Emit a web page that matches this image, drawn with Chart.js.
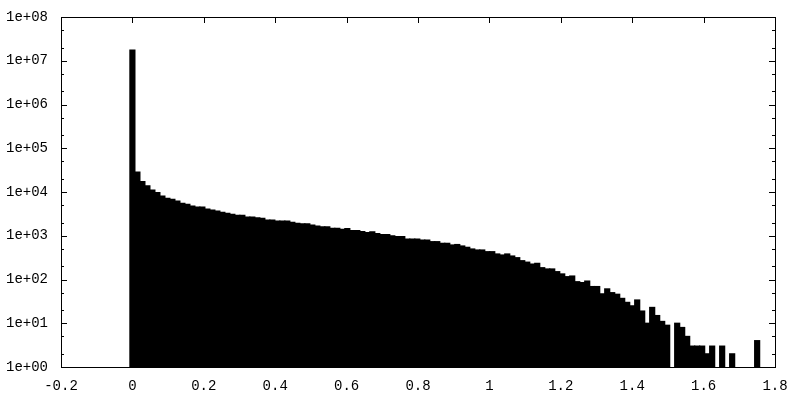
<!DOCTYPE html>
<html>
<head>
<meta charset="utf-8">
<script src="https://cdn.jsdelivr.net/npm/chart.js@4.4.1/dist/chart.umd.min.js"></script>
<style>
  body { margin: 0; background: #fff; }
</style>
</head>
<body>
<canvas id="myChart" width="800" height="400"></canvas>
<script>
// bin centres (x) and counts per bin (y)
const binCenters = [
  0, 0.014, 0.028, 0.042, 0.056, 0.07, 0.084, 0.098, 0.112, 0.126,
  0.14, 0.154, 0.168, 0.182, 0.196, 0.21, 0.224, 0.238, 0.252, 0.266,
  0.28, 0.294, 0.308, 0.322, 0.336, 0.35, 0.364, 0.378, 0.392, 0.406,
  0.42, 0.434, 0.448, 0.462, 0.476, 0.49, 0.504, 0.518, 0.532, 0.546,
  0.56, 0.574, 0.588, 0.602, 0.616, 0.63, 0.644, 0.658, 0.672, 0.686,
  0.7, 0.714, 0.728, 0.742, 0.756, 0.77, 0.784, 0.798, 0.812, 0.826,
  0.84, 0.854, 0.868, 0.882, 0.896, 0.91, 0.924, 0.938, 0.952, 0.966,
  0.98, 0.994, 1.008, 1.022, 1.036, 1.05, 1.064, 1.078, 1.092, 1.106,
  1.12, 1.134, 1.148, 1.162, 1.176, 1.19, 1.204, 1.218, 1.232, 1.246,
  1.26, 1.274, 1.288, 1.302, 1.316, 1.33, 1.344, 1.358, 1.372, 1.386,
  1.4, 1.414, 1.428, 1.442, 1.456, 1.47, 1.484, 1.498, 1.512, 1.526,
  1.54, 1.554, 1.568, 1.582, 1.596, 1.61, 1.624, 1.638, 1.652, 1.666,
  1.68, 1.694, 1.708, 1.722, 1.736, 1.75
];
const counts = [
  17600000, 28500, 17200, 13900, 11100, 9660, 8110, 7180, 6810, 6230,
  5520, 5240, 4790, 4540, 4540, 4080, 3880, 3680, 3440, 3260,
  3090, 2930, 2930, 2680, 2680, 2550, 2500, 2290, 2290, 2170,
  2170, 2170, 2030, 1920, 1860, 1860, 1760, 1670, 1600, 1600,
  1480, 1480, 1400, 1450, 1310, 1310, 1240, 1180, 1220, 1120,
  1060, 1060, 1000, 953, 953, 843, 843, 843, 800, 800,
  732, 732, 671, 671, 615, 630, 583, 544, 498, 472,
  472, 432, 432, 383, 363, 383, 344, 315, 269, 249,
  225, 234, 186, 174, 174, 151, 134, 116, 120, 89,
  85, 92, 69, 69, 47, 61, 50, 46, 37, 30,
  25, 34, 19, 10, 23, 15, 11, 9, null, 10,
  8, 5, 3, 3, 3, 2, 3, null, 3, null,
  2, null, null, null, null, 4
];
const yMajor = [1, 10, 100, 1000, 10000, 100000, 1000000, 10000000, 100000000];
const yMinor = [2, 5, 20, 50, 200, 500, 2000, 5000, 20000, 50000, 200000, 500000,
  2000000, 5000000, 20000000, 50000000];

function expLabel(v) {
  const e = Math.round(Math.log10(v));
  return '1e+' + (e < 10 ? '0' : '') + e;
}

const frame = {
  id: 'frame',
  beforeDraw(chart) {
    const ctx = chart.ctx;
    ctx.save();
    ctx.fillStyle = '#fff';
    ctx.fillRect(0, 0, chart.width, chart.height);
    ctx.restore();
  },
  afterDatasetsDraw(chart) {
    const { ctx, chartArea: a, scales } = chart;
    const x = scales.x, y = scales.y;
    ctx.save();
    ctx.strokeStyle = '#000';
    ctx.lineWidth = 1;
    ctx.beginPath();
    y.ticks.forEach(t => {
      const py = Math.round(y.getPixelForValue(t.value)) + 0.5;
      const len = yMajor.includes(t.value) ? 6 : 3;
      ctx.moveTo(a.left, py); ctx.lineTo(a.left + len, py);
      ctx.moveTo(a.right, py); ctx.lineTo(a.right - len, py);
    });
    x.ticks.forEach(t => {
      const px = Math.round(x.getPixelForValue(t.value)) + 0.5;
      ctx.moveTo(px, a.bottom); ctx.lineTo(px, a.bottom - 6);
      ctx.moveTo(px, a.top); ctx.lineTo(px, a.top + 6);
    });
    ctx.stroke();
    ctx.strokeRect(Math.round(a.left) + 0.5, Math.round(a.top) + 0.5,
      Math.round(a.right - a.left), Math.round(a.bottom - a.top));
    ctx.restore();
  }
};

Chart.defaults.font.family = 'Liberation Mono';
Chart.defaults.font.size = 14;
Chart.defaults.color = '#000';

new Chart(document.getElementById('myChart'), {
  type: 'bar',
  data: {
    datasets: [{
      data: binCenters.map((c, i) => ({ x: c, y: counts[i] })),
      backgroundColor: '#000',
      borderWidth: 0,
      inflateAmount: 0.6,
      barPercentage: 1,
      categoryPercentage: 1
    }]
  },
  options: {
    responsive: false,
    animation: false,
    layout: { padding: { top: 17, right: 25, left: 0, bottom: 0 } },
    plugins: { legend: { display: false }, tooltip: { enabled: false } },
    scales: {
      x: {
        type: 'linear',
        min: -0.2,
        max: 1.8,
        offset: false,
        grid: { display: false, offset: false },
        border: { display: false },
        afterFit: s => { s.height = 33; },
        ticks: {
          stepSize: 0.2,
          autoSkip: false,
          maxRotation: 0,
          padding: 3,
          callback: v => String(Math.round(v * 10) / 10)
        }
      },
      y: {
        type: 'logarithmic',
        min: 1,
        max: 100000000,
        grid: { display: false },
        border: { display: false },
        afterFit: s => { s.width = 61; },
        afterBuildTicks: s => {
          s.ticks = yMajor.concat(yMinor).sort((p, q) => p - q).map(v => ({ value: v }));
        },
        ticks: {
          autoSkip: false,
          padding: 5,
          callback: v => yMajor.includes(v) ? expLabel(v) : ''
        }
      }
    }
  },
  plugins: [frame]
});
</script>
</body>
</html>
